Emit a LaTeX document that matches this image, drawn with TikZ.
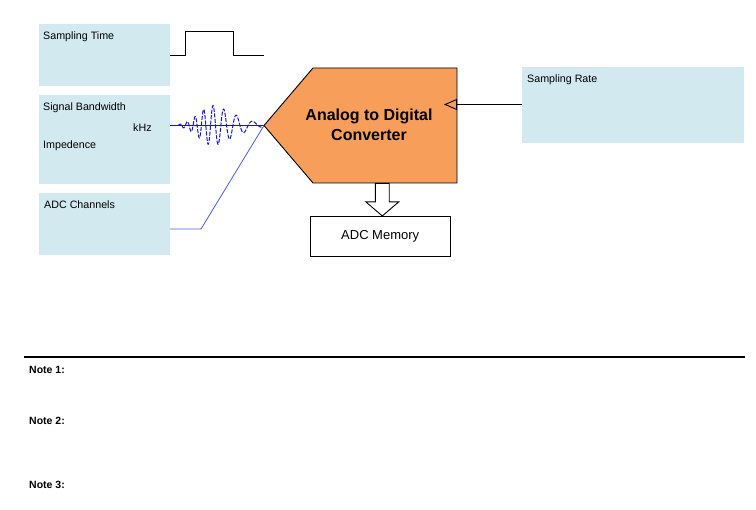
\documentclass[tikz,border=0pt]{standalone}
\usepackage{fontspec}
\setmainfont{Liberation Sans}
\usetikzlibrary{arrows.meta, positioning, shapes.arrows}
\definecolor{boxblue}{HTML}{D2E9EF}
\definecolor{adcorange}{HTML}{F79F5A}
\definecolor{wireblue}{HTML}{1414E0}
\definecolor{paleblue}{HTML}{4A5CF0}

\begin{document}
\begin{tikzpicture}[
    x=1pt, y=-1pt,
    param/.style={fill=boxblue, inner sep=0pt},
    label/.style={anchor=west, inner sep=0pt, font=\fontsize{10.7}{13}\selectfont},
    note/.style={anchor=west, inner sep=0pt, font=\fontsize{10.5}{12}\selectfont\bfseries},
    arrow/.style={-{Triangle[open, length=13pt, width=11pt, line width=0.9pt]}, line width=0.9pt},
    wire/.style={line width=0.9pt}
]
\useasboundingbox (0,0) rectangle (756,510);

% Parameter boxes
\node (time) [param, minimum width=131pt, minimum height=62pt] at (104.5,55) {};
\node (signal) [param, minimum width=131pt, minimum height=89pt] at (104.5,139.5) {};
\node (channels) [param, minimum width=131pt, minimum height=62pt] at (104.5,224) {};
\node (rate) [param, minimum width=222pt, minimum height=76pt] at (633,105) {};

% Labels
\node (timelabel) [label] at (43,36.5) {Sampling Time};
\node (bwlabel) [label] at (43,107.5) {Signal Bandwidth};
\node (khz) [label] at (133,128) {kHz};
\node (implabel) [label] at (43,145.5) {Impedence};
\node (chlabel) [label] at (44,204.5) {ADC Channels};
\node (ratelabel) [label] at (527,79.5) {Sampling Rate};

% Converter
\coordinate (adctip) at (264,125.5);
\coordinate (adcbottom) at (382.3,183);
\draw [fill=adcorange, wire] (adctip) -- (313,68) -- (457,68) -- (457,183) -- (313,183) -- cycle;
\node (adc) [align=center, inner sep=0pt, font=\fontsize{16}{20}\selectfont\bfseries] at (369,125) {Analog to Digital\\Converter};

% Memory
\node (memory) [draw, wire, minimum width=140.5pt, minimum height=40.5pt, inner sep=0pt, font=\fontsize{13}{15}\selectfont] at (380.2,236.3) {ADC Memory};
\node (memarrow) [draw, wire, single arrow, rotate=-90, anchor=tail, inner sep=0pt, text height=6.5pt, text depth=6.5pt, text width=0pt, minimum height=32.5pt, single arrow head extend=9.5pt, single arrow tip angle=99, fill=white] at (adcbottom) {};

% Sampling time pulse
\coordinate (pulseend) at (264,55);
\draw [wire] (time.east) -- (185,55) -- (185,31) -- (233,31) -- (233,55) -- (pulseend);

% Signal and channel wires
\coordinate (signalout) at (170,125.5);
\draw [wireblue, wire] (signalout) -- (adctip);
\draw [wireblue, dash pattern=on 4pt off 1.5pt, line width=1pt, domain=178:262, samples=260, smooth]
    plot (\x, {125.5 - 20*(\x<213 ? exp(-((\x-213)/20)^2) : exp(-pow((abs(\x-213)+0.01)/30,1.6)))*cos(360*(0.1003*(\x-213) - 0.000633*(\x-213)^2))});
\coordinate (channelbend) at (201,229);
\draw [paleblue, line width=0.8pt] (channels.east |- channelbend) -- (channelbend) -- (adctip);

% Sampling rate input
\coordinate (ratein) at (444,104.5);
\draw [arrow] (rate.west |- ratein) -- (ratein);

% Notes
\coordinate (ruleleft) at (24,357);
\coordinate (ruleright) at (745,357);
\draw [line width=1.4pt] (ruleleft) -- (ruleright);
\node (note1) [note] at (29,369.6) {Note 1:};
\node (note2) [note] at (29,420.6) {Note 2:};
\node (note3) [note] at (29,484.6) {Note 3:};

\end{tikzpicture}
\end{document}
